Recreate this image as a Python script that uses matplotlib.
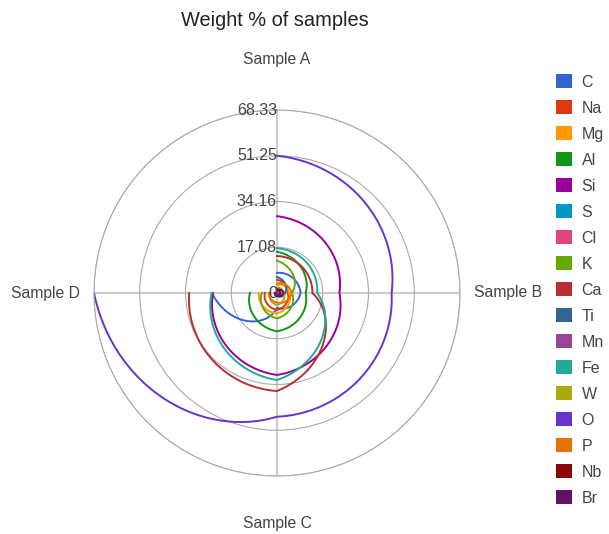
import numpy as np
import matplotlib
matplotlib.use("Agg")
import matplotlib.pyplot as plt
from matplotlib.patches import Patch

plt.rcParams['font.family'] = ['Liberation Sans', 'DejaVu Sans']

# Axes: Sample A (top), B (right), C (bottom), D (left)
samples = ['Sample A', 'Sample B', 'Sample C', 'Sample D']
elements = ['C', 'Na', 'Mg', 'Al', 'Si', 'S', 'Cl', 'K', 'Ca', 'Ti',
            'Mn', 'Fe', 'W', 'O', 'P', 'Nb', 'Br']
colors = ['#3366cc', '#dc3912', '#ff9900', '#109618', '#990099', '#0099c6',
          '#dd4477', '#66aa00', '#b82e2e', '#316395', '#994499', '#22aa99',
          '#aaaa11', '#6633cc', '#e67300', '#8b0707', '#651067']

# weight % per element, values for Sample A, B, C, D
w_C = [7.5, 8.8, 5.5, 24.3]
w_Na = [4.9, 4.0, 6.3, 4.5]
w_Mg = [3.0, 4.5, 7.6, 6.8]
w_Al = [15.4, 10.7, 14.3, 10.1]
w_Si = [28.7, 23.3, 30.6, 23.9]
w_S = [0.6, 0.8, 0.5, 0.4]
w_Cl = [0.4, 0.5, 0.8, 0.3]
w_K = [12.1, 5.5, 9.5, 5.6]
w_Ca = [13.8, 13.2, 36.6, 32.8]
w_Ti = [6.0, 3.0, 1.0, 0.8]
w_Mn = [0.5, 1.5, 0.5, 0.6]
w_Fe = [16.7, 15.0, 32.5, 24.4]
w_W = [2.0, 2.5, 4.5, 2.5]
w_O = [51.25, 42.8, 46.2, 68.33]
w_P = [3.5, 5.5, 3.5, 3.0]
w_Nb = [1.5, 1.0, 1.2, 0.8]
w_Br = [1.0, 2.5, 0.6, 0.6]

weights = [w_C, w_Na, w_Mg, w_Al, w_Si, w_S, w_Cl, w_K, w_Ca, w_Ti,
           w_Mn, w_Fe, w_W, w_O, w_P, w_Nb, w_Br]

rticks = [17.08, 34.16, 51.25, 68.33]
rmax = 68.33

fig = plt.figure(figsize=(6.09, 5.34), dpi=100)
cx, cy, rad = 277 / 609, 1 - 293 / 534, 183
ax = fig.add_axes([cx - rad / 609, cy - rad / 534, 2 * rad / 609, 2 * rad / 534],
                  projection='polar')
ax.set_theta_zero_location('N')
ax.set_theta_direction(-1)

theta = np.deg2rad([0, 90, 180, 270])


def curve(vals, n=60):
    # the chart joins neighbouring samples with spiral segments (r linear in angle)
    ts, rs = [], []
    for i in range(len(vals) - 1):
        t = np.linspace(theta[i], theta[i + 1], n)
        r = np.linspace(vals[i], vals[i + 1], n)
        ts.append(t)
        rs.append(r)
    return np.concatenate(ts), np.concatenate(rs)


for name, vals, col in zip(elements, weights, colors):
    t, r = curve(vals)
    ax.plot(t, r, color=col, lw=1.4, solid_joinstyle='round')

ax.set_rlim(0, rmax)
ax.set_rticks(rticks)
ax.set_yticklabels([])
ax.set_thetagrids([0, 90, 180, 270], labels=[])
ax.xaxis.grid(True, color='#cccccc', lw=1.6)
ax.yaxis.grid(True, color='#aaaaaa', lw=0.8)
ax.spines['polar'].set_color('#aaaaaa')
ax.spines['polar'].set_linewidth(0.8)

# radial tick labels along the top axis
for v, s in zip([0] + rticks, ['0', '17.08', '34.16', '51.25', '68.33']):
    ax.text(0, v, s, ha='right', va='center', fontsize=11.5, color='#444444')

# sample labels
ax.text(theta[0], 87.0, samples[0], ha='center', va='center', fontsize=11.3, color='#444444', clip_on=False)
ax.text(theta[1], 73.6, samples[1], ha='left', va='center', fontsize=11.3, color='#444444', clip_on=False)
ax.text(theta[2], 85.9, samples[2], ha='center', va='center', fontsize=11.3, color='#444444', clip_on=False)
ax.text(theta[3], 73.6, samples[3], ha='right', va='center', fontsize=11.3, color='#444444', clip_on=False)

fig.text(275 / 609, 1 - 20 / 534, 'Weight % of samples', ha='center', va='center',
         fontsize=14.4, color='#222222')

handles = [Patch(facecolor=c, edgecolor='none') for c in colors]
fig.legend(handles, elements, loc='upper left', bbox_to_anchor=(556 / 609, 1 - 74 / 534),
           frameon=False, fontsize=11.5, handlelength=1.0, handleheight=1.0,
           handletextpad=0.6, labelspacing=0.65, borderpad=0, borderaxespad=0,
           labelcolor='#444444')

fig.savefig('out.png', dpi=100)
